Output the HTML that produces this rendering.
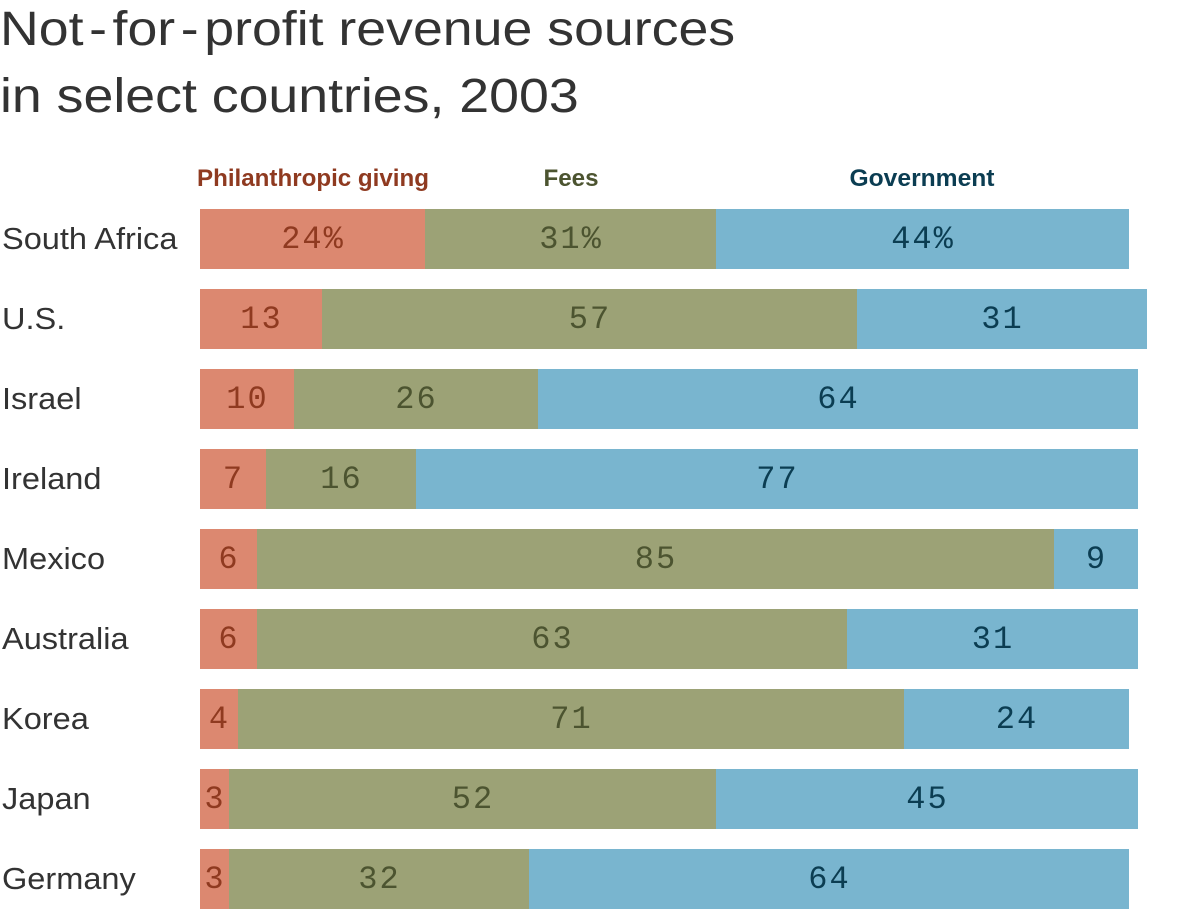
<!DOCTYPE html>
<html>
<head>
<meta charset="utf-8">
<title>Not-for-profit revenue sources in select countries, 2003</title>
<style>
html,body{margin:0;padding:0;background:#fff;width:1200px;height:924px;overflow:hidden}
svg{display:block}
.title{font-family:"Liberation Sans",sans-serif;font-size:48px;fill:#333333}
.head{font-family:"Liberation Sans",sans-serif;font-size:24px;font-weight:bold;text-anchor:middle}
.country{font-family:"Liberation Sans",sans-serif;font-size:31px;fill:#333333}
.val{font-family:"Liberation Mono",monospace;font-size:32px;letter-spacing:2px;text-anchor:middle}
</style>
</head>
<body>
<svg id="chart" width="1200" height="924" viewBox="0 0 1200 924" xmlns="http://www.w3.org/2000/svg">
  <rect width="1200" height="924" fill="#ffffff"/>
  <text class="title" transform="translate(0,45) scale(1.118,1)">Not<tspan dx="5">-</tspan><tspan dx="5">for</tspan><tspan dx="5">-</tspan><tspan dx="5">profit revenue sources</tspan></text>
  <text class="title" transform="translate(0,112) scale(1.118,1)">in select countries, 2003</text>
  <text class="head" x="313" y="186" fill="#8f3a20" textLength="232" lengthAdjust="spacingAndGlyphs">Philanthropic giving</text>
  <text class="head" x="571" y="186" fill="#4c5430" textLength="55" lengthAdjust="spacingAndGlyphs">Fees</text>
  <text class="head" x="922" y="186" fill="#0b3d52" textLength="145" lengthAdjust="spacingAndGlyphs">Government</text>
  <g id="rows"></g>
</svg>
<script>
const countries = ["South Africa","U.S.","Israel","Ireland","Mexico","Australia","Korea","Japan","Germany"];
const philanthropy = [24,13,10,7,6,6,4,3,3];
const fees = [31,57,26,16,85,63,71,52,32];
const government = [44,31,64,77,9,31,24,45,64];

const NS = "http://www.w3.org/2000/svg";
const rowsGroup = document.getElementById("rows");
const xScale = function (v) { return 200 + Math.ceil(v * 9.375); };
const yScale = function (i) { return 209 + i * 80; };
const BAR_H = 60;
const seriesList = [
  { key: "philanthropy", values: philanthropy, fill: "#dc8870", text: "#8f3a20" },
  { key: "fees", values: fees, fill: "#9ca276", text: "#4c5430" },
  { key: "government", values: government, fill: "#79b5cf", text: "#0b3d52" }
];

countries.forEach(function (name, i) {
  const label = document.createElementNS(NS, "text");
  label.setAttribute("class", "country");
  label.setAttribute("transform", "translate(2," + (yScale(i) + 40) + ") scale(1.05,1)");
  
  
  label.textContent = name;
  rowsGroup.appendChild(label);

  let cum = 0;
  seriesList.forEach(function (s) {
    const v = s.values[i];
    const x0 = xScale(cum);
    const x1 = xScale(cum + v);
    const bar = document.createElementNS(NS, "rect");
    bar.setAttribute("x", x0);
    bar.setAttribute("y", yScale(i));
    bar.setAttribute("width", x1 - x0);
    bar.setAttribute("height", BAR_H);
    bar.setAttribute("fill", s.fill);
    
    
    rowsGroup.appendChild(bar);

    const t = document.createElementNS(NS, "text");
    t.setAttribute("class", "val");
    t.setAttribute("x", (x0 + x1) / 2 + 0.5);
    t.setAttribute("y", yScale(i) + 39);
    t.setAttribute("fill", s.text);
    
    
    t.textContent = v + (i === 0 ? "%" : "");
    rowsGroup.appendChild(t);
    cum += v;
  });
});
</script>
</body>
</html>
